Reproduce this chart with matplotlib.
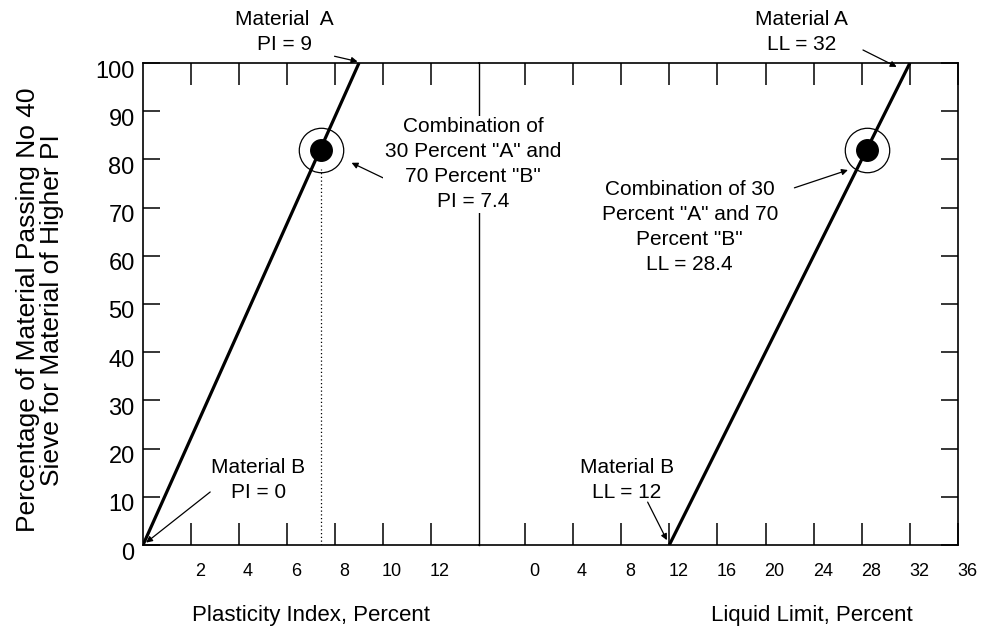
import numpy as np
import matplotlib
matplotlib.use('Agg')
import matplotlib.pyplot as plt
from matplotlib.transforms import ScaledTranslation

plt.rcParams['font.family'] = ['Liberation Sans', 'DejaVu Sans']

# 数据
pct = [0, 100]                 # percentage passing no 40 (material of higher PI)
pi_line = [0, 9]               # PI of material B -> material A
ll_line = [12, 32]             # LL of material B -> material A
combo_pct = 82
combo_pi = 7.4
combo_ll = 28.4

pi_ticks = [2, 4, 6, 8, 10, 12]
ll_ticks = [0, 4, 8, 12, 16, 20, 24, 28, 32, 36]
y_ticks = [0, 10, 20, 30, 40, 50, 60, 70, 80, 90, 100]

W, H = 993, 630
fig = plt.figure(figsize=(W / 100, H / 100), dpi=100)
x0, xm, x1 = 143, 479, 958
ytop, ybot = 63, 545
axL = fig.add_axes([x0 / W, 1 - ybot / H, (xm - x0) / W, (ybot - ytop) / H])
axR = fig.add_axes([xm / W, 1 - ybot / H, (x1 - xm) / W, (ybot - ytop) / H])
axR.patch.set_visible(False)

axL.set_xlim(0, 14)
axR.set_xlim(-3.82, 36)
for ax in (axL, axR):
    ax.set_ylim(0, 100)
    for s in ax.spines.values():
        s.set_linewidth(1.2)
axL.spines['right'].set_linewidth(1.0)
axR.spines['left'].set_visible(False)

# ticks
axL.set_xticks(pi_ticks + [14])
axL.set_xticklabels([str(t) for t in pi_ticks] + [''])
axR.set_xticks(ll_ticks)
axR.set_xticklabels([str(t) for t in ll_ticks])
for ax in (axL, axR):
    ax.tick_params(axis='x', direction='in', top=True, bottom=True, length=16,
                   width=1.1, labelsize=13, pad=13)
    ax.set_yticks(y_ticks)
axL.tick_params(axis='y', direction='in', left=True, right=False, length=12,
                width=1.1, labelsize=17, pad=6)
axR.tick_params(axis='y', direction='in', left=False, right=True, labelleft=False,
                length=12, width=1.1)
axL.xaxis.get_major_ticks()[-1].tick1line.set_visible(False)
axL.xaxis.get_major_ticks()[-1].tick2line.set_visible(False)
t28 = axR.xaxis.get_major_ticks()[ll_ticks.index(28)]
t28.tick1line.set_linestyle((0, (1, 2)))
t28.tick2line.set_linestyle((0, (1, 2)))
t28.tick1line.set_linewidth(0.9)
t28.tick2line.set_linewidth(0.9)

off = ScaledTranslation(0.09, 0, fig.dpi_scale_trans)
for ax in (axL, axR):
    for lab in ax.get_xticklabels():
        lab.set_transform(lab.get_transform() + off)
yoff = ScaledTranslation(0, -0.06, fig.dpi_scale_trans)
for lab in axL.get_yticklabels():
    lab.set_transform(lab.get_transform() + yoff)

axL.set_ylabel('Percentage of Material Passing No 40\nSieve for Material of Higher PI',
               fontsize=19, linespacing=1.0)
axL.yaxis.set_label_coords(-0.235, 0.488)
axL.set_xlabel('Plasticity Index, Percent', fontsize=16)
axR.set_xlabel('Liquid Limit, Percent', fontsize=16)
axR.xaxis.set_label_coords(0.695, -0.125)
axL.xaxis.set_label_coords(0.5, -0.125)

# lines
axL.plot(pi_line, pct, color='black', lw=2.3, solid_capstyle='butt')
axR.plot(ll_line, pct, color='black', lw=2.3, solid_capstyle='butt')

# combination points
for ax, cx in ((axL, combo_pi), (axR, combo_ll)):
    ax.plot(cx, combo_pct, marker='o', ms=32, mfc='none', mec='black', mew=0.9, clip_on=False)
    ax.plot(cx, combo_pct, marker='o', ms=15.5, mfc='black', mec='black', clip_on=False)
axL.plot([combo_pi, combo_pi], [0, combo_pct - 4], color='black', lw=0.9, ls=(0, (1, 2)))

fs = 15
ls = 1.4
arrow = dict(arrowstyle='-|>', color='black', lw=0.9, mutation_scale=9, shrinkA=0, shrinkB=0)

# left annotations
axL.text(5.89, 106.4, 'Material  A\nPI = 9', ha='center', va='center', fontsize=fs,
         linespacing=ls, clip_on=False)
axL.annotate('', xy=(8.94, 100.3), xytext=(7.98, 101.4), arrowprops=arrow, annotation_clip=False)
axL.text(13.75, 79.0, 'Combination of\n30 Percent "A" and\n70 Percent "B"\nPI = 7.4',
         ha='center', va='center', fontsize=fs, linespacing=ls, zorder=5,
         bbox=dict(facecolor='white', edgecolor='none', pad=1), clip_on=False)
axL.annotate('', xy=(8.69, 79.3), xytext=(10.2, 75.7), arrowprops=arrow)
axL.text(4.8, 13.5, 'Material B\nPI = 0', ha='center', va='center', fontsize=fs,
         linespacing=ls)
axL.annotate('', xy=(0.13, 0.5), xytext=(2.8, 11.0), arrowprops=arrow)

# right annotations
axR.text(23.0, 106.4, 'Material A\nLL = 32', ha='center', va='center', fontsize=fs,
         linespacing=ls, clip_on=False)
axR.annotate('', xy=(30.9, 99.2), xytext=(28.1, 102.7), arrowprops=arrow, annotation_clip=False)
axR.text(13.7, 66.0, 'Combination of 30\nPercent "A" and 70\nPercent "B"\nLL = 28.4',
         ha='center', va='center', fontsize=fs, linespacing=ls)
axR.annotate('', xy=(26.85, 77.8), xytext=(22.4, 74.1), arrowprops=arrow)
axR.text(8.48, 13.5, 'Material B\nLL = 12', ha='center', va='center', fontsize=fs,
         linespacing=ls)
axR.annotate('', xy=(11.8, 1.0), xytext=(10.2, 8.9), arrowprops=arrow)

fig.savefig('out.png', dpi=100)
